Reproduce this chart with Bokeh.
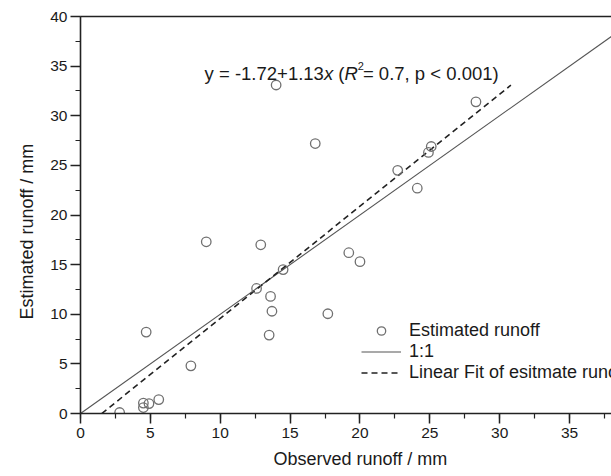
import math
from bokeh.plotting import figure
from bokeh.models import Range1d, Label, LinearAxis, Legend, LegendItem, SingleIntervalTicker, FixedTicker, Title
from bokeh.embed import file_html
from bokeh.resources import INLINE

# ---- data ----
observed = [2.8, 4.5, 4.5, 4.9, 5.6, 4.7, 7.9, 9.0, 12.9, 12.6, 13.6, 13.7, 13.5, 14.5,
            14.0, 16.8, 22.7, 24.1, 25.1, 24.9, 28.3, 19.2, 20.0, 17.7]
estimated = [0.1, 1.05, 0.6, 1.0, 1.4, 8.2, 4.8, 17.3, 17.0, 12.6, 11.8, 10.3, 7.9, 14.5,
             33.1, 27.2, 24.5, 22.7, 26.9, 26.3, 31.4, 16.2, 15.3, 10.05]

one_to_one = [0, 40]
fit_intercept = -1.72
fit_slope = 1.13
fit_x = [1.52, 30.8]
fit_y = [fit_intercept + fit_slope * v for v in fit_x]

x_ticks_interval = 5
y_ticks_interval = 5

FONT = "Liberation Sans"
TXT = "#1a1a1a"

p = figure(width=611, height=476, output_backend="svg", toolbar_location=None,
           x_range=Range1d(0, 38.0), y_range=Range1d(0, 40),
           min_border_left=80, min_border_right=0, min_border_top=16, min_border_bottom=63)
p.grid.visible = False
p.outline_line_color = None
p.background_fill_color = "white"
p.border_fill_color = "white"

for ax, iv in ((p.xaxis[0], x_ticks_interval), (p.yaxis[0], y_ticks_interval)):
    ax.ticker = SingleIntervalTicker(interval=iv, num_minor_ticks=2)
    ax.axis_line_width = 1.6
    ax.axis_line_color = "#222222"
    ax.major_tick_line_color = "#222222"
    ax.minor_tick_line_color = "#222222"
    ax.major_tick_line_width = 1.5
    ax.minor_tick_line_width = 1.2
    ax.major_tick_in = 0
    ax.major_tick_out = 10
    ax.minor_tick_in = 0
    ax.minor_tick_out = 5
    ax.major_label_text_font = FONT
    ax.major_label_text_font_size = "15.5px"
    ax.major_label_text_color = TXT
p.xaxis.major_label_standoff = 4
p.yaxis.major_label_standoff = 3

top = LinearAxis(ticker=FixedTicker(ticks=[]), axis_line_width=1.6, axis_line_color="#222222",
                 major_tick_line_color=None, minor_tick_line_color=None,
                 major_label_text_font_size="0px")
p.add_layout(top, "above")

# axis titles (placed as titles so they can sit off-centre like the reference)
x_title = Title(text="Observed runoff / mm", align="left", offset=193, standoff=13,
                text_font=FONT, text_font_size="18px", text_font_style="normal", text_color=TXT)
y_title = Title(text="Estimated runoff / mm", align="left", offset=94, standoff=21,
                text_font=FONT, text_font_size="18px", text_font_style="normal", text_color=TXT)
p.add_layout(x_title, "below")
p.add_layout(y_title, "left")

r_one = p.line(one_to_one, one_to_one, line_color="#555555", line_width=1.1)
r_fit = p.line(fit_x, fit_y, line_color="#222222", line_width=1.6, line_dash="6 4")
r_pts = p.scatter(observed, estimated, marker="circle", size=9.5, fill_color=None,
                  line_color="#707070", line_width=1.3)

legend = Legend(items=[LegendItem(label="Estimated runoff", renderers=[r_pts]),
                       LegendItem(label="1:1", renderers=[r_one]),
                       LegendItem(label="Linear Fit of esitmate runoff", renderers=[r_fit])],
                location=(281, 30), padding=0, margin=0, spacing=0,
                label_height=21, glyph_height=21, glyph_width=40, label_standoff=8,
                border_line_color=None, background_fill_alpha=0,
                label_text_font=FONT, label_text_font_size="18px", label_text_color=TXT)
p.add_layout(legend, "center")

# equation, built from pieces (leading spaces converted into offsets)
W = {' ': 278, 'y': 500, '=': 584, '-': 333, '1': 556, '.': 278, '7': 556, '2': 556, '+': 584,
     '3': 556, 'x': 500, '(': 333, 'R': 722, ',': 278, 'p': 556, '<': 584, '0': 556, ')': 333}

def tw(s, size):
    return sum(W.get(c, 556) for c in s) * size / 1000.0

eq_x, eq_y = 8.88, 34.3
fs = 18.5
sup = 11
pieces = [("y = -1.72+1.13", "normal", fs, 0, 0), ("x", "italic", fs, 0, 0), (" (", "normal", fs, 0, 0),
          ("R", "italic", fs, 0, 0), ("2", "normal", sup, 7, -1), ("= 0.7, p < 0.001)", "normal", fs, 0, 0)]
off = 0.0
for txt, style, size, yo, adj in pieces:
    stripped = txt.lstrip(" ")
    lead = tw(txt[:len(txt) - len(stripped)], size)
    p.add_layout(Label(x=eq_x, y=eq_y, x_offset=off + lead, y_offset=yo, text=stripped,
                       text_font=FONT, text_font_size=f"{size}px",
                       text_font_style=style, text_color=TXT, text_baseline="alphabetic"))
    off += tw(txt, size) + adj

open("out.html", "w").write(file_html(p, INLINE))
